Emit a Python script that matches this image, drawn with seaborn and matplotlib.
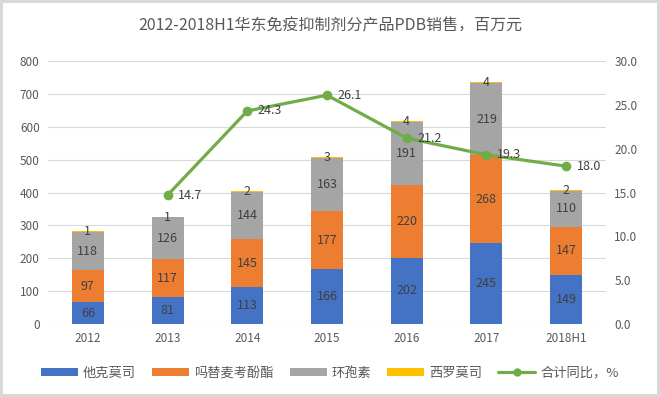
import matplotlib
matplotlib.use("Agg")
import matplotlib.pyplot as plt
import seaborn as sns
import numpy as np
import pandas as pd
from matplotlib.patches import Patch
from matplotlib.lines import Line2D

years = ["2012", "2013", "2014", "2015", "2016", "2017", "2018H1"]
tacrolimus = [66, 81, 113, 166, 202, 245, 149]
mycophenolate = [97, 117, 145, 177, 220, 268, 147]
cyclosporine = [118, 126, 144, 163, 191, 219, 110]
sirolimus = [1, 1, 2, 3, 4, 4, 2]
growth = [np.nan, 14.7, 24.3, 26.1, 21.2, 19.3, 18.0]

names = ["他克莫司", "吗替麦考酚酯", "环孢素", "西罗莫司"]
colors = ["#4472C4", "#ED7D31", "#A5A5A5", "#FFC000"]
line_name = "合计同比，%"
line_color = "#70AD47"

sns.set_theme(style="white")
plt.rcParams['font.family'] = ['Noto Sans CJK SC', 'DejaVu Sans']

fig = plt.figure(figsize=(6.6, 3.97), dpi=100)
fig.patch.set_facecolor("white")
fig.patch.set_edgecolor("#D9D9D9")
fig.patch.set_linewidth(3)
ax = fig.add_axes([48/660, 1-324/397, 558/660, (324-61)/397])

txtc = "#595959"
series = [tacrolimus, mycophenolate, cyclosporine, sirolimus]
bottom = np.zeros(len(years))
for name, vals, c in zip(names, series, colors):
    df = pd.DataFrame({"year": years, "v": vals})
    sns.barplot(data=df, x="year", y="v", color=c, bottom=bottom, width=0.4,
                ax=ax, saturation=1, linewidth=0, zorder=3)
    for i, v in enumerate(vals):
        ax.text(i, bottom[i] + v / 2, f"{v}", ha="center", va="center",
                fontsize=9, color="#404040", zorder=5)
    bottom = bottom + np.array(vals)

ax.set_ylim(0, 800)
ax.set_yticks(range(0, 801, 100))
ax.set_xlim(-0.5, 6.5)
ax.set_xlabel("")
ax.set_ylabel("")
ax.grid(axis="y", color="#D9D9D9", linewidth=0.8, zorder=0)
ax.set_axisbelow(True)
for s in ax.spines.values():
    s.set_visible(False)
ax.tick_params(axis="both", length=0, labelsize=8.5, labelcolor=txtc, pad=6)

ax2 = ax.twinx()
ldf = pd.DataFrame({"x": np.arange(len(years)), "g": growth})
sns.lineplot(data=ldf, x="x", y="g", ax=ax2, color=line_color, linewidth=2.3,
             marker="o", markersize=7, markeredgewidth=0, zorder=6)
for i, g in enumerate(growth):
    if not np.isnan(g):
        ax2.text(i + 0.13, g, f"{g:.1f}", ha="left", va="center", fontsize=9,
                 color="#404040", zorder=7)
ax2.set_ylim(0, 30)
ax2.set_yticks(range(0, 31, 5))
ax2.set_yticklabels([f"{v:.1f}" for v in range(0, 31, 5)])
ax2.set_xlim(-0.5, 6.5)
ax2.set_xlabel("")
ax2.set_ylabel("")
for s in ax2.spines.values():
    s.set_visible(False)
ax2.tick_params(axis="both", length=0, labelsize=8.5, labelcolor=txtc, pad=6)

fig.text(0.5, 1 - 26/397, "2012-2018H1华东免疫抑制剂分产品PDB销售，百万元", ha="center",
         va="center", fontsize=11.5, color=txtc)

handles = [Patch(facecolor=c, edgecolor="none") for c in colors]
handles.append(Line2D([0], [0], color=line_color, lw=2.3, marker="o", markersize=6,
                      markeredgewidth=0))
fig.legend(handles, names + [line_name], loc="center", bbox_to_anchor=(0.5, 1 - 373/397),
           ncol=5, frameon=False, fontsize=9.5, labelcolor=txtc, handlelength=2.8,
           handleheight=0.5, columnspacing=1.2, handletextpad=0.4)

fig.savefig("out.png", dpi=100, facecolor=fig.get_facecolor(), edgecolor=fig.get_edgecolor())
